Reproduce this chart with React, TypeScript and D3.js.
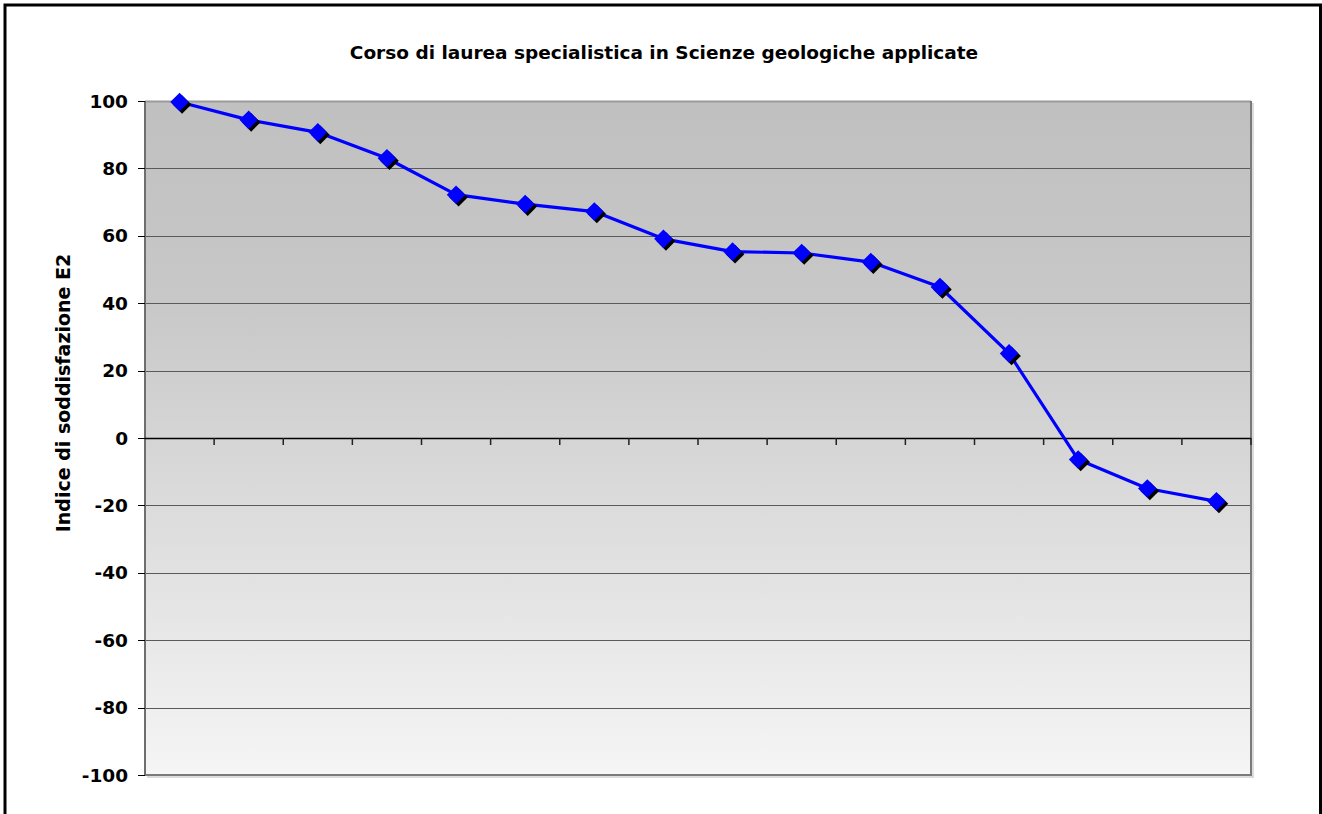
import React from "react";
import * as d3 from "d3";

const title = "Corso di laurea specialistica in Scienze geologiche applicate";
const yAxisTitle = "Indice di soddisfazione E2";
const categories = ["1", "2", "3", "4", "5", "6", "7", "8", "9", "10", "11", "12", "13", "14", "15", "16"];
const values = [99.7, 94.4, 90.7, 83.0, 72.2, 69.4, 67.2, 59.1, 55.3, 54.9, 52.2, 44.8, 25.1, -6.4, -15.0, -18.8];
const yTicks = [-100, -80, -60, -40, -20, 0, 20, 40, 60, 80, 100];

const W = 1322;
const H = 814;
const plot = { left: 145, top: 101, right: 1251, bottom: 775 };
const FONT = "Tahoma, 'DejaVu Sans', sans-serif";

export default function App() {
  const x = d3.scaleBand<string>().domain(categories).range([plot.left, plot.right]).padding(0);
  const y = d3.scaleLinear().domain([-100, 100]).range([plot.bottom, plot.top]);
  const cx = (c: string) => (x(c) ?? 0) + x.bandwidth() / 2;
  const line = d3
    .line<number>()
    .x((_, i) => cx(categories[i]))
    .y((d) => y(d));
  const r = 9.3;
  const diamond = (px: number, py: number) =>
    `M${px},${py - r}L${px + r},${py}L${px},${py + r}L${px - r},${py}Z`;
  const boundaries = categories.slice(1).map((c) => x(c) ?? 0).concat([plot.right]);

  return (
    <div style={{ position: "absolute", left: 0, top: 0 }}>
      <svg width={W} height={H} style={{ display: "block" }}>
        <defs>
          <linearGradient id="bg" x1="0" y1="0" x2="0" y2="1">
            <stop offset="0" stopColor="#c0c0c0" />
            <stop offset="0.3" stopColor="#c8c8c8" />
            <stop offset="1" stopColor="#f5f5f5" />
          </linearGradient>
        </defs>
        <rect x={0} y={0} width={W} height={H} fill="#ffffff" />
        <rect x={5} y={5} width={W - 6.5} height={H + 20} fill="none" stroke="#000" strokeWidth={3} />
        <text
          x={664}
          y={52}
          textAnchor="middle"
          dominantBaseline="central"
          fontFamily={FONT}
          fontWeight="bold"
          fontSize={18.5}
          fill="#000"
        >
          {title}
        </text>
        {/* plot background */}
        <rect
          x={plot.left}
          y={plot.top}
          width={plot.right - plot.left}
          height={plot.bottom - plot.top}
          fill="url(#bg)"
        />
        {/* gridlines */}
        {yTicks.map((t) =>
          t === 0 || t === 100 || t === -100 ? null : (
            <line
              key={"g" + t}
              x1={plot.left}
              x2={plot.right}
              y1={Math.round(y(t)) + 0.5}
              y2={Math.round(y(t)) + 0.5}
              stroke="#5a5a5a"
              strokeWidth={1}
            />
          )
        )}
        {/* plot border */}
        <line x1={plot.left} x2={plot.right} y1={plot.top + 0.5} y2={plot.top + 0.5} stroke="#9a9a9a" strokeWidth={2} />
        <line x1={plot.right} x2={plot.right} y1={plot.top} y2={plot.bottom + 1} stroke="#7a7a7a" strokeWidth={2} />
        <line x1={plot.right + 2} x2={plot.right + 2} y1={plot.top + 2} y2={plot.bottom + 3} stroke="#d0d0d0" strokeWidth={1.5} />
        <line x1={plot.left} x2={plot.right} y1={plot.bottom} y2={plot.bottom} stroke="#7a7a7a" strokeWidth={2} />
        <line x1={plot.left + 2} x2={plot.right + 2} y1={plot.bottom + 2} y2={plot.bottom + 2} stroke="#d0d0d0" strokeWidth={1.5} />
        {/* y axis */}
        <line x1={plot.left} x2={plot.left} y1={plot.top} y2={plot.bottom} stroke="#6e6e6e" strokeWidth={2} />
        {yTicks.map((t) => (
          <g key={"t" + t}>
            <line x1={plot.left - 7} x2={plot.left} y1={Math.round(y(t)) + 0.5} y2={Math.round(y(t)) + 0.5} stroke="#000" strokeWidth={1} />
            <text
              x={128}
              y={y(t)}
              textAnchor="end"
              dominantBaseline="central"
              fontFamily={FONT}
              fontWeight="bold"
              fontSize={18.5}
              fill="#000"
            >
              {t}
            </text>
          </g>
        ))}
        {/* zero line (category axis) */}
        <line x1={plot.left} x2={plot.right} y1={Math.round(y(0)) + 0.5} y2={Math.round(y(0)) + 0.5} stroke="#000" strokeWidth={1.5} />
        {boundaries.map((bx, i) => (
          <line key={"xt" + i} x1={bx} x2={bx} y1={y(0)} y2={y(0) + 7} stroke="#222" strokeWidth={1.5} />
        ))}
        {/* y axis title */}
        <text
          transform={`translate(63,393) rotate(-90)`}
          textAnchor="middle"
          dominantBaseline="central"
          fontFamily={FONT}
          fontWeight="bold"
          fontSize={19}
          fill="#000"
        >
          {yAxisTitle}
        </text>
        {/* series */}
        <path d={line(values) ?? ""} fill="none" stroke="#0000ff" strokeWidth={3.2} strokeLinejoin="round" />
        {values.map((v, i) => {
          const px = cx(categories[i]);
          const py = y(v);
          return (
            <g key={"m" + i}>
              <path d={diamond(px + 2.5, py + 2.5)} fill="#000" />
              <path d={diamond(px, py)} fill="#0000ff" />
            </g>
          );
        })}
      </svg>
    </div>
  );
}
